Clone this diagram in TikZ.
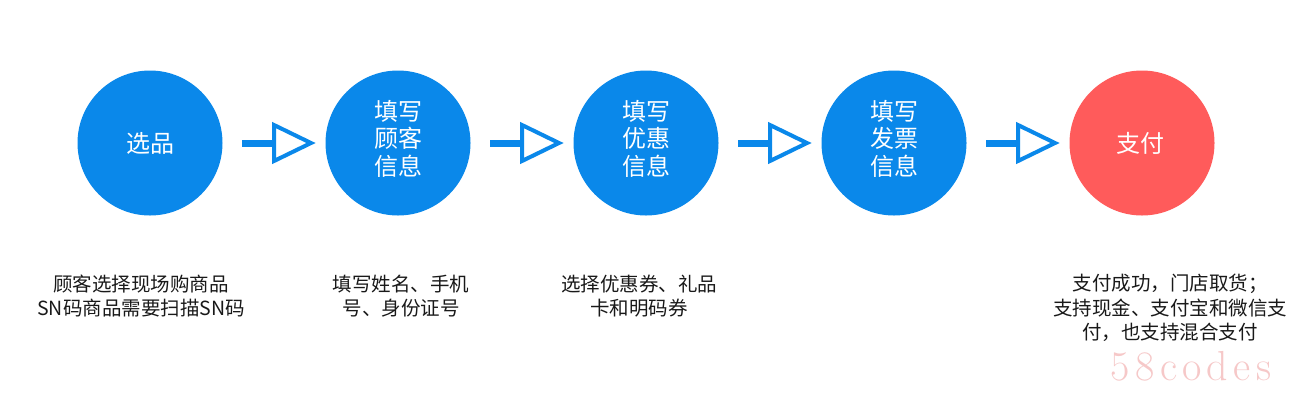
\documentclass[tikz,border=0pt]{standalone}
\usepackage{fontspec}
\usetikzlibrary{calc}
\newfontfamily\cjk{Noto Sans CJK SC}
\definecolor{flowblue}{RGB}{10,136,234}
\definecolor{flowred}{RGB}{255,91,91}
\definecolor{wmpink}{RGB}{246,200,200}
\begin{document}
\begin{tikzpicture}[x=1pt,y=-1pt,
  circ/.style={circle,minimum size=145pt,inner sep=0pt,fill=#1},
  circtext/.style={text=white,align=center,inner sep=0pt,font=\cjk\fontsize{24pt}{27.5pt}\selectfont},
  desc/.style={text=black!90,align=center,inner sep=0pt,font=\cjk\fontsize{19.5pt}{24.5pt}\selectfont},
  shaft/.style={draw=flowblue,line width=7pt},
  head/.style={draw=flowblue,line width=4pt,line join=miter}]
\useasboundingbox (0,0) rectangle (1303,400);
\fill[white] (0,0) rectangle (1303,400);
% circles
\node[circ=flowblue] (c1) at (150,143) {};
\node[circ=flowblue] (c2) at (398,143) {};
\node[circ=flowblue] (c3) at (646,143) {};
\node[circ=flowblue] (c4) at (894,143) {};
\node[circ=flowred]  (c5) at (1142,143) {};
% circle texts
\node[circtext] (l1) at (c1) {选品};
\node[circtext] (l2) at ($(c2)+(0,-4.5)$) {填写\\顾客\\信息};
\node[circtext] (l3) at ($(c3)+(0,-4.5)$) {填写\\优惠\\信息};
\node[circtext] (l4) at ($(c4)+(0,-4.5)$) {填写\\发票\\信息};
\node[circtext] (l5) at ($(c5)+(-2,0)$) {支付};
% arrows
\foreach \a/\b in {c1/c2,c2/c3,c3/c4,c4/c5}{
  \draw[shaft] ($(\a)+(92,0)$) -- ($(\a)+(124,0)$);
  \draw[head] ($(\a)+(124,-18)$) -- ($(\a)+(161,0)$) -- ($(\a)+(124,18)$) -- cycle;
}
% descriptions
\node[desc] (t1) at (141,296) {顾客选择现场购商品\\SN码商品需要扫描SN码};
\node[desc] (t2) at (401,296) {填写姓名、手机\\号、身份证号};
\node[desc] (t3) at (639,296) {选择优惠券、礼品\\卡和明码券};
\node[desc] (t5) at (1170,308) {支付成功，门店取货；\\支持现金、支付宝和微信支\\付，也支持混合支付};
% watermark
\node[text=wmpink,inner sep=0pt,font=\fontsize{42pt}{42pt}\selectfont] (wm) at (1191,366) {5\hspace{5.3pt}8\hspace{5.3pt}c\hspace{5.3pt}o\hspace{5.3pt}d\hspace{5.3pt}e\hspace{5.3pt}s};
\end{tikzpicture}
\end{document}
